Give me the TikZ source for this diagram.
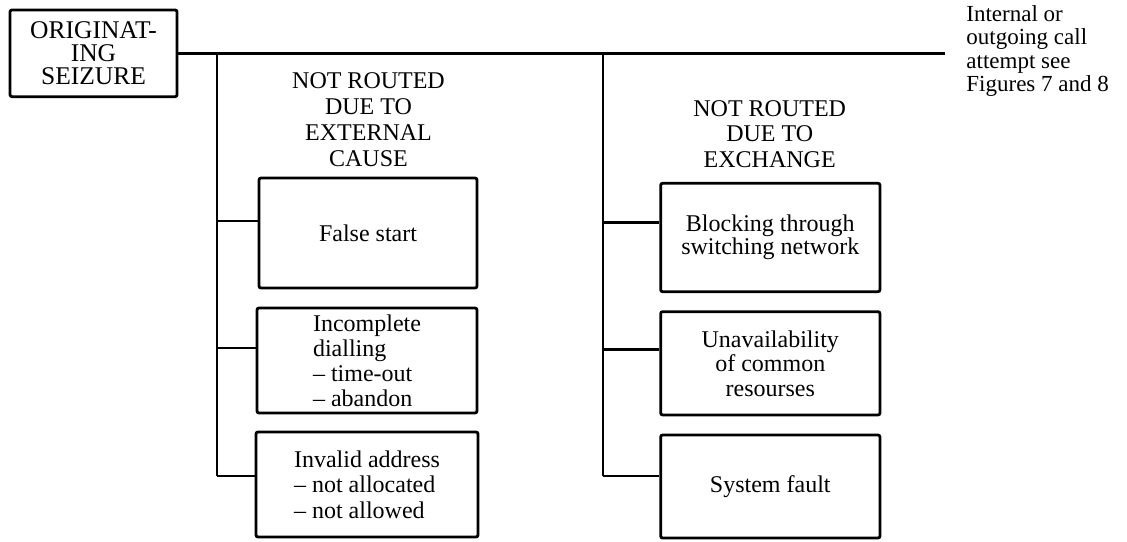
\documentclass[tikz,border=0pt]{standalone}
\usepackage{fontspec}
\setmainfont{Liberation Serif}
\begin{document}
\begin{tikzpicture}[x=1pt,y=-1pt,
  line width=2.8pt,
  txt/.style={inner sep=0pt,font=\fontsize{24}{25}\selectfont},
  box/.style={draw,rounded corners=2pt,inner sep=0pt,anchor=center,
              font=\fontsize{24}{24.5}\selectfont},
  link/.style={line width=2.8pt}]
\useasboundingbox (0,0) rectangle (1127,541);

% start box and main line
\node[box,minimum width=167pt,minimum height=86.7pt,align=center,
      font=\fontsize{25.5}{23.3}\selectfont] (orig) at (93.5,53.3)
  {ORIGINAT-\\ING\\SEIZURE};
\coordinate (lineend) at (945,53.3);
\draw[link] (orig.east) -- (lineend);
\node[txt,anchor=west,align=left,font=\fontsize{23}{23.3}\selectfont] (note) at (965,51)
  {Internal or\\outgoing call\\attempt see\\Figures 7 and 8};

% left branch: external cause
\coordinate (ltop) at (217,53.3);
\coordinate (lbot) at (217,476);
\draw[link] (ltop) -- (lbot);
\node[txt,align=center,font=\fontsize{24}{25.9}\selectfont] (hext) at (368.5,120)
  {NOT ROUTED\\DUE TO\\EXTERNAL\\CAUSE};
\node[box,minimum width=218pt,minimum height=110pt] (fs) at (368,233) {False start};
\node[box,minimum width=220pt,minimum height=105pt,align=left,
      font=\fontsize{24}{25}\selectfont] (inc) at (367,360.5)
  {Incomplete\\dialling\\\textendash{} time-out\\\textendash{} abandon};
\node[box,minimum width=222pt,minimum height=105pt,align=left,
      font=\fontsize{24}{25.6}\selectfont] (inv) at (367,484.5)
  {Invalid address\\\textendash{} not allocated\\\textendash{} not allowed};
\coordinate (j1) at (217,221);
\coordinate (j2) at (217,348);
\draw[link] (j1) -- (j1 -| fs.west);
\draw[link] (j2) -- (j2 -| inc.west);
\draw[link] (lbot) -- (lbot -| inv.west);

% right branch: exchange
\coordinate (rtop) at (603,53.3);
\coordinate (rbot) at (603,476);
\draw[link] (rtop) -- (rbot);
\node[txt,align=center,font=\fontsize{24}{25.8}\selectfont] (hexc) at (769.7,134)
  {NOT ROUTED\\DUE TO\\EXCHANGE};
\node[box,minimum width=219.3pt,minimum height=108.4pt,align=center,
      font=\fontsize{24}{23.4}\selectfont] (blk) at (770.3,237.5)
  {Blocking through\\switching network};
\node[box,minimum width=219.3pt,minimum height=103.3pt,align=center] (una) at (770.3,363.3)
  {Unavailability\\of common\\resourses};
\node[box,minimum width=219.3pt,minimum height=103pt] (sf) at (770.3,486.5) {System fault};
\coordinate (k1) at (603,222.7);
\coordinate (k2) at (603,349.3);
\draw[link] (k1) -- (k1 -| blk.west);
\draw[link] (k2) -- (k2 -| una.west);
\draw[link] (rbot) -- (rbot -| sf.west);
\end{tikzpicture}
\end{document}
